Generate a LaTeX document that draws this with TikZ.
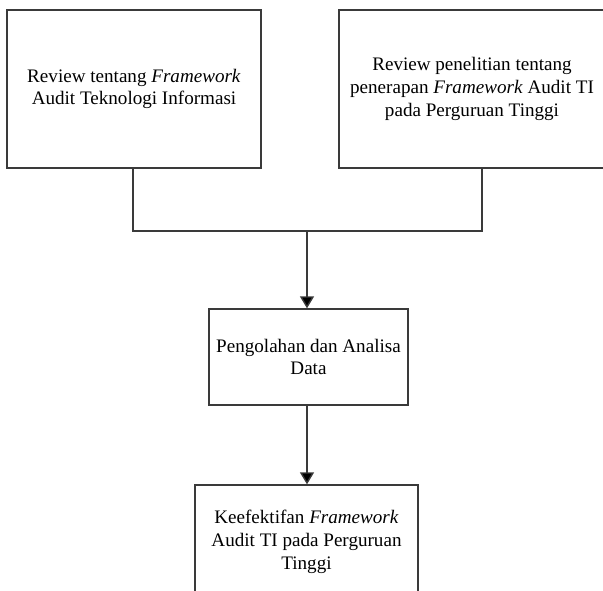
\documentclass[tikz,border=0pt]{standalone}
\usepackage{fontspec}
\setmainfont{Liberation Serif}
\usetikzlibrary{arrows.meta}
\definecolor{edge}{HTML}{3A3A3A}
\tikzset{
  box/.style={draw=edge, line width=1.4pt, fill=white, align=center, inner sep=0pt,
    font=\fontsize{19.1}{22.8}\selectfont},
  conn/.style={draw=edge, line width=1.4pt},
  arr/.style={conn, -{Triangle[length=12pt,width=14pt,fill=black]}}
}
\begin{document}
\begin{tikzpicture}[x=1pt,y=-1pt]
\useasboundingbox (0,0) rectangle (603,591);
\clip (0,0) rectangle (603,591);
\node[box, minimum width=254pt, minimum height=158pt] (b1) at (134,89)
  {Review tentang \textit{Framework}\\Audit Teknologi Informasi};
\node[box, minimum width=266pt, minimum height=158pt] (b2) at (472,89)
  {Review penelitian tentang\\penerapan \textit{Framework} Audit TI\\pada Perguruan Tinggi};
\node[box, minimum width=199pt, minimum height=96pt] (b3) at (308.5,357)
  {Pengolahan dan Analisa\\Data};
\node[box, minimum width=223pt, minimum height=114pt] (b4) at (306.5,542)
  {Keefektifan \textit{Framework}\\Audit TI pada Perguruan\\Tinggi};
\coordinate (j1) at (133,231);
\coordinate (j2) at (482,231);
\coordinate (jm) at (307,231);
\draw[conn] (b1.south -| j1) -- (j1) -- (j2) -- (b2.south -| j2);
\draw[arr] (jm) -- (jm |- b3.north);
\draw[arr] (b3.south -| jm) -- (jm |- b4.north);
\end{tikzpicture}
\end{document}
